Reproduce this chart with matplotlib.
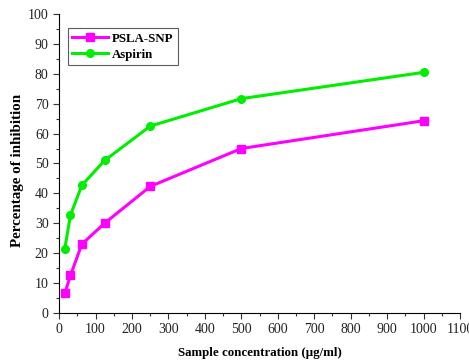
import matplotlib
matplotlib.use("Agg")
import matplotlib.pyplot as plt
from matplotlib.ticker import MultipleLocator

conc = [15.6, 31.25, 62.5, 125, 250, 500, 1000]
psla_snp = [6.5, 12.5, 23.0, 30.0, 42.3, 55.0, 64.3]
aspirin = [21.5, 32.7, 42.7, 51.0, 62.5, 71.7, 80.5]

plt.rcParams['font.family'] = ['Liberation Serif', 'DejaVu Serif']

fig = plt.figure(figsize=(4.69, 3.62), dpi=100)
ax = fig.add_axes([0.126, 0.136, 0.855, 0.825])

ax.plot(conc, psla_snp, color='#ff00ff', lw=2.2, marker='s', ms=5.5, label='PSLA-SNP')
ax.plot(conc, aspirin, color='#00ee00', lw=2.2, marker='o', ms=5.5, label='Aspirin')

ax.set_xlim(0, 1100)
ax.set_ylim(0, 100)
ax.xaxis.set_major_locator(MultipleLocator(100))
ax.xaxis.set_minor_locator(MultipleLocator(50))
ax.yaxis.set_major_locator(MultipleLocator(10))
ax.yaxis.set_minor_locator(MultipleLocator(5))
ax.tick_params(which='major', length=4, width=0.8, labelsize=10, color='#333333', labelcolor='#222222')
ax.tick_params(which='minor', length=2.5, width=0.8, color='#333333')
ax.spines['top'].set_visible(False)
ax.spines['right'].set_visible(False)

ax.set_xlabel('Sample concentration (µg/ml)', fontsize=9.3, fontweight='bold', labelpad=8)
ax.set_ylabel('Percentage of inhibition', fontsize=10.8, fontweight='bold')
ax.yaxis.set_label_coords(-0.088, 0.475)

leg = ax.legend(loc='upper left', bbox_to_anchor=(0.005, 0.975), prop={'weight': 'bold', 'size': 9.3},
                fancybox=False, edgecolor='#333333', handlelength=2.8, borderpad=0.35,
                labelspacing=0.3, handletextpad=0.3)
leg.get_frame().set_linewidth(0.8)

fig.savefig('out.png', dpi=100)
